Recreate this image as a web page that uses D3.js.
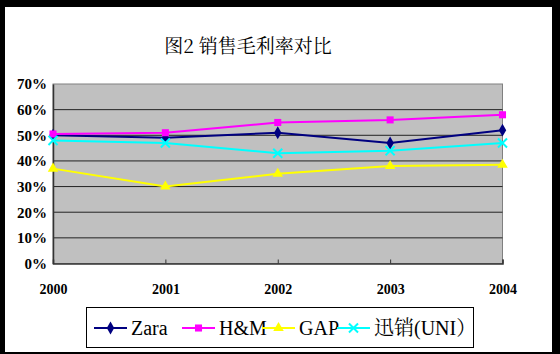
<!DOCTYPE html>
<html>
<head>
<meta charset="utf-8">
<script src="https://cdn.jsdelivr.net/npm/d3@7"></script>
<style>
  html, body { margin: 0; padding: 0; background: #000; }
  svg { display: block; }
</style>
</head>
<body>
<svg id="chart" width="560" height="354"></svg>
<script>
// data
const years = ["2000", "2001", "2002", "2003", "2004"];
const zara = [0.50, 0.49, 0.51, 0.47, 0.52];
const hm = [0.505, 0.51, 0.55, 0.56, 0.58];
const gap = [0.37, 0.30, 0.35, 0.38, 0.385];
const uni = [0.48, 0.47, 0.43, 0.44, 0.47];
const yTicks = [0, 0.1, 0.2, 0.3, 0.4, 0.5, 0.6, 0.7];

const series = [
  { name: "Zara", values: zara, color: "#000080", shape: "diamond" },
  { name: "H&M", values: hm, color: "#ff00ff", shape: "square" },
  { name: "GAP", values: gap, color: "#ffff00", shape: "triangle" },
  { name: "迅销(UNI）", values: uni, color: "#00ffff", shape: "cross" }
];

const serif = "Liberation Serif, Noto Serif CJK SC, serif";
const cjkSerif = "Noto Serif CJK SC, Liberation Serif, serif";

const svg = d3.select("#chart");

// white card inside the black frame
svg.append("rect")
  .attr("x", 5).attr("y", 7)
  .attr("width", 547).attr("height", 345)
  .attr("fill", "#fff");

const plot = { left: 53, right: 502.5, top: 84, bottom: 263.5 };

const x = d3.scalePoint().domain(years).range([plot.left, plot.right]);
const y = d3.scaleLinear().domain([0, 0.7]).range([plot.bottom, plot.top]);

// title
svg.append("text")
  .attr("x", 248).attr("y", 53)
  .attr("text-anchor", "middle")
  .attr("font-family", cjkSerif)
  .attr("font-size", 19)
  .text("图2 销售毛利率对比");

// plot background
svg.append("rect")
  .attr("x", plot.left).attr("y", plot.top)
  .attr("width", plot.right - plot.left)
  .attr("height", plot.bottom - plot.top)
  .attr("fill", "#c0c0c0")
  .attr("stroke", "#808080")
  .attr("stroke-width", 1);

// gridlines
svg.append("g")
  .selectAll("line")
  .data(yTicks.slice(1, -1))
  .enter().append("line")
  .attr("x1", plot.left).attr("x2", plot.right)
  .attr("y1", d => y(d)).attr("y2", d => y(d))
  .attr("stroke", "#222")
  .attr("stroke-width", 1);

// y axis
const yAxis = svg.append("g")
  .attr("transform", `translate(${plot.left},0)`)
  .call(d3.axisLeft(y).tickValues(yTicks).tickFormat(d3.format(".0%")).tickSize(0).tickPadding(6))
  .attr("font-family", serif)
  .attr("font-size", 15)
  .attr("font-weight", "bold");
yAxis.select(".domain").attr("stroke", "#333").attr("stroke-width", 1.5);
yAxis.selectAll("text").attr("fill", "#000");

// x axis
const xAxis = svg.append("g")
  .attr("transform", `translate(0,${plot.bottom})`)
  .call(d3.axisBottom(x).tickSize(-4).tickPadding(21))
  .attr("font-family", serif)
  .attr("font-size", 14)
  .attr("font-weight", "bold");
xAxis.select(".domain").attr("stroke", "#333").attr("stroke-width", 1.5);
xAxis.selectAll(".tick line").attr("stroke", "#333");
xAxis.selectAll("text").attr("fill", "#000");

const symbols = {
  diamond: d3.symbol().type(d3.symbolDiamond).size(48),
  square: d3.symbol().type(d3.symbolSquare).size(50),
  triangle: d3.symbol().type(d3.symbolTriangle).size(48),
  cross: d3.symbol().type(d3.symbolX).size(55)
};

function drawMarker(g, s) {
  const p = g.append("path").attr("d", symbols[s.shape]());
  if (s.shape === "cross") {
    p.attr("fill", "none").attr("stroke", s.color).attr("stroke-width", 2);
  } else {
    p.attr("fill", s.color);
  }
  return p;
}

const line = d3.line()
  .x((d, i) => x(years[i]))
  .y(d => y(d));

series.forEach(s => {
  svg.append("path")
    .datum(s.values)
    .attr("fill", "none")
    .attr("stroke", s.color)
    .attr("stroke-width", 2)
    .attr("d", line);
  s.values.forEach((v, i) => {
    const g = svg.append("g").attr("transform", `translate(${x(years[i])},${y(v)})`);
    drawMarker(g, s);
  });
});

// legend
const legendStarts = [94, 182, 262, 337];
const legend = svg.append("g");
legend.append("rect")
  .attr("x", 86.5).attr("y", 307.5)
  .attr("width", 387).attr("height", 40)
  .attr("fill", "#fff")
  .attr("stroke", "#000")
  .attr("stroke-width", 1);

series.forEach((s, i) => {
  const g = legend.append("g").attr("transform", `translate(${legendStarts[i]},328)`);
  g.append("line")
    .attr("x1", 0).attr("x2", 33)
    .attr("stroke", s.color).attr("stroke-width", 2);
  const m = g.append("g").attr("transform", "translate(16.5,0)");
  drawMarker(m, s);
  g.append("text")
    .attr("x", 37).attr("y", 7)
    .attr("font-family", serif)
    .attr("font-size", 20)
    .text(s.name);
});
</script>
</body>
</html>
